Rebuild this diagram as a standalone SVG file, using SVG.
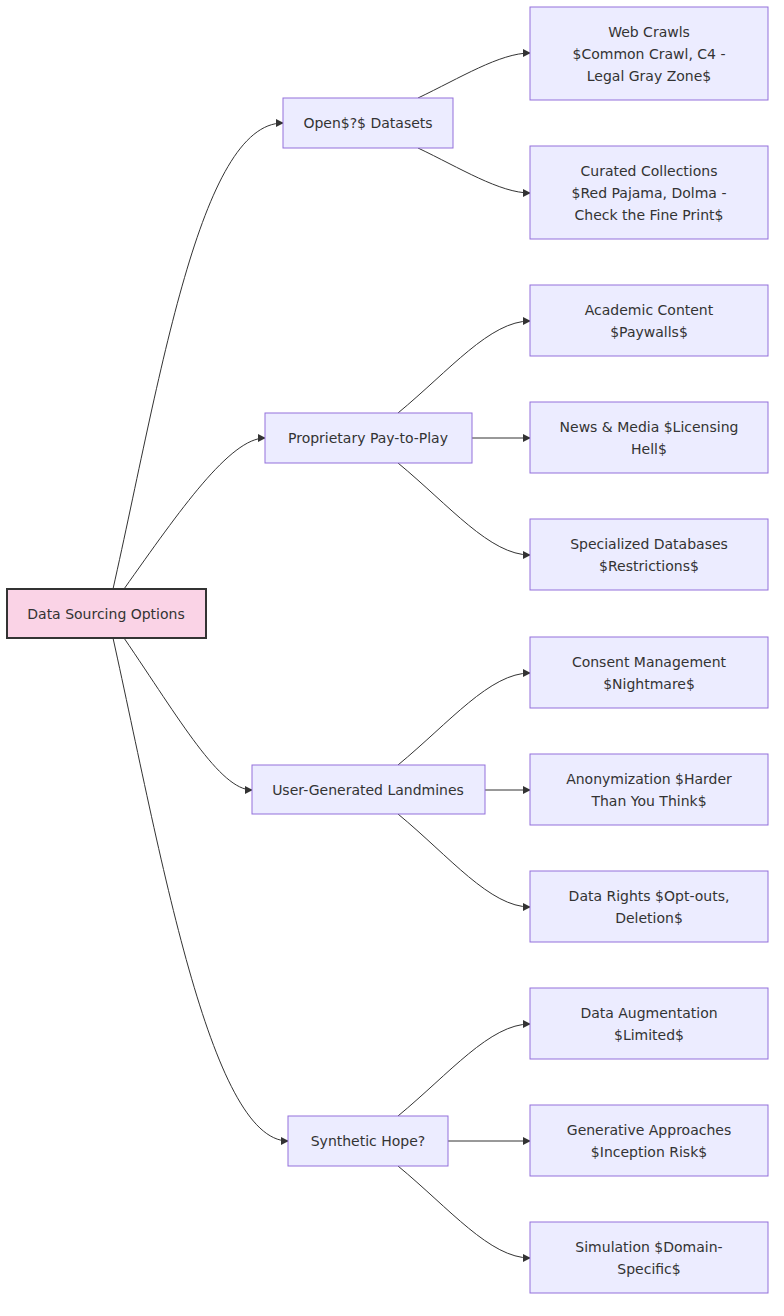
<svg xmlns="http://www.w3.org/2000/svg" width="784" height="1316" viewBox="0 0 784 1316">
<defs>
<style>
.n{fill:#ECECFF;stroke:#9370DB;stroke-width:1}
.r{fill:#FAD3E6;stroke:#333;stroke-width:2}
text{font-family:"DejaVu Sans","Liberation Sans",sans-serif;font-size:14px;fill:#333;text-anchor:middle}
.e{fill:none;stroke:#333;stroke-width:1;marker-end:url(#a)}
</style>
<marker id="a" viewBox="0 0 10 10" refX="9" refY="5" markerWidth="8" markerHeight="8" orient="auto"><path d="M0,0L10,5L0,10z" fill="#333"/></marker>
</defs>
<rect width="784" height="1316" fill="#fff"/>
<g id="edges">
<path class="e" d="M113,589C160,380 200,123 283,123"/>
<path class="e" d="M124,589C180,510 230,438 265,438"/>
<path class="e" d="M124,638C180,720 220,790 252,790"/>
<path class="e" d="M113,638C160,850 210,1141 288,1141"/>
<path class="e" d="M418,98C460,78 500,53 530,53"/>
<path class="e" d="M418,148C460,168 500,193 530,193"/>
<path class="e" d="M398,413C450,370 490,321 530,321"/>
<path class="e" d="M472,438L530,438"/>
<path class="e" d="M398,463C450,506 490,555 530,555"/>
<path class="e" d="M398,765C450,722 490,673 530,673"/>
<path class="e" d="M485,790L530,790"/>
<path class="e" d="M398,814C450,857 490,907 530,907"/>
<path class="e" d="M398,1116C450,1073 490,1024 530,1024"/>
<path class="e" d="M448,1141L530,1141"/>
<path class="e" d="M398,1166C450,1209 490,1258 530,1258"/>
</g>
<g id="root"><rect class="r" x="7" y="589" width="199" height="49"/><text x="106" y="619">Data Sourcing Options</text></g>
<g id="open"><rect class="n" x="283" y="98" width="170" height="50"/><text x="368" y="128">Open$?$ Datasets</text></g>
<g id="prop"><rect class="n" x="265" y="413" width="207" height="50"/><text x="368" y="443">Proprietary Pay-to-Play</text></g>
<g id="user"><rect class="n" x="252" y="765" width="233" height="49"/><text x="368" y="795">User-Generated Landmines</text></g>
<g id="synth"><rect class="n" x="288" y="1116" width="160" height="50"/><text x="368" y="1146">Synthetic Hope?</text></g>
<g id="web"><rect class="n" x="530" y="7" width="238" height="93"/><text x="649" y="37">Web Crawls</text><text x="649" y="59">$Common Crawl, C4 -</text><text x="649" y="81">Legal Gray Zone$</text></g>
<g id="cur"><rect class="n" x="530" y="146" width="238" height="93"/><text x="649" y="176">Curated Collections</text><text x="649" y="198">$Red Pajama, Dolma -</text><text x="649" y="220">Check the Fine Print$</text></g>
<g id="acad"><rect class="n" x="530" y="285" width="238" height="71"/><text x="649" y="315">Academic Content</text><text x="649" y="337">$Paywalls$</text></g>
<g id="news"><rect class="n" x="530" y="402" width="238" height="71"/><text x="649" y="432">News &amp; Media $Licensing</text><text x="649" y="454">Hell$</text></g>
<g id="spec"><rect class="n" x="530" y="519" width="238" height="71"/><text x="649" y="549">Specialized Databases</text><text x="649" y="571">$Restrictions$</text></g>
<g id="cons"><rect class="n" x="530" y="637" width="238" height="71"/><text x="649" y="667">Consent Management</text><text x="649" y="689">$Nightmare$</text></g>
<g id="anon"><rect class="n" x="530" y="754" width="238" height="71"/><text x="649" y="784">Anonymization $Harder</text><text x="649" y="806">Than You Think$</text></g>
<g id="rights"><rect class="n" x="530" y="871" width="238" height="71"/><text x="649" y="901">Data Rights $Opt-outs,</text><text x="649" y="923">Deletion$</text></g>
<g id="aug"><rect class="n" x="530" y="988" width="238" height="71"/><text x="649" y="1018">Data Augmentation</text><text x="649" y="1040">$Limited$</text></g>
<g id="gen"><rect class="n" x="530" y="1105" width="238" height="71"/><text x="649" y="1135">Generative Approaches</text><text x="649" y="1157">$Inception Risk$</text></g>
<g id="sim"><rect class="n" x="530" y="1222" width="238" height="71"/><text x="649" y="1252">Simulation $Domain-</text><text x="649" y="1274">Specific$</text></g>
</svg>
